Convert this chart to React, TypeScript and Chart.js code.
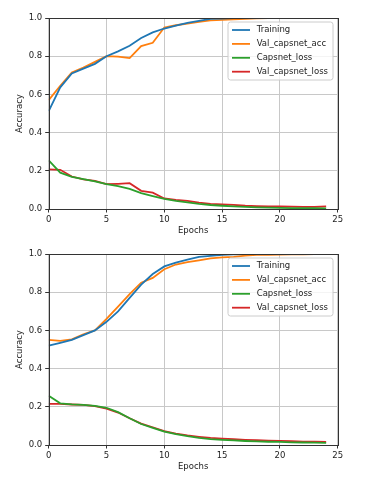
import React, { useEffect, useRef } from "react";
import { Chart, registerables } from "chart.js";

Chart.register(...registerables);

const epochs = [0,1,2,3,4,5,6,7,8,9,10,11,12,13,14,15,16,17,18,19,20,21,22,23,24];
const seriesNames = ["Training", "Val_capsnet_acc", "Capsnet_loss", "Val_capsnet_loss"];
const seriesColors = ["#1f77b4", "#ff7f0e", "#2ca02c", "#d62728"];
const xTicks = [0, 5, 10, 15, 20, 25];
const yTicks = [0, 0.2, 0.4, 0.6, 0.8, 1.0];

// Chart 1
const train1 = [0.513,0.637,0.71,0.735,0.76,0.8,0.825,0.855,0.895,0.925,0.945,0.96,0.975,0.985,0.995,0.997,0.999,1.0,1.0,1.0,1.0,1.0,1.0,1.0,1.0];
const valAcc1 = [0.57,0.645,0.715,0.74,0.77,0.8,0.798,0.79,0.853,0.87,0.95,0.962,0.97,0.98,0.988,0.99,0.993,0.996,0.998,0.999,0.999,1.0,1.0,1.0,1.0];
const loss1 = [0.255,0.19,0.168,0.157,0.145,0.13,0.12,0.105,0.083,0.068,0.053,0.043,0.035,0.027,0.021,0.017,0.014,0.011,0.009,0.007,0.006,0.005,0.004,0.004,0.003];
const valLoss1 = [0.207,0.205,0.17,0.155,0.147,0.13,0.132,0.135,0.095,0.086,0.055,0.048,0.043,0.033,0.027,0.024,0.022,0.017,0.015,0.014,0.013,0.012,0.011,0.011,0.014];

// Chart 2
const train2 = [0.52,0.535,0.55,0.575,0.6,0.645,0.7,0.77,0.84,0.895,0.935,0.955,0.97,0.985,0.99,0.995,0.998,0.999,1.0,1.0,1.0,1.0,1.0,1.0,1.0];
const valAcc2 = [0.55,0.545,0.553,0.58,0.6,0.66,0.725,0.79,0.85,0.875,0.92,0.945,0.957,0.967,0.977,0.982,0.985,0.992,0.995,0.996,0.997,0.998,0.998,0.999,0.999];
const loss2 = [0.258,0.218,0.213,0.21,0.205,0.195,0.172,0.14,0.11,0.09,0.07,0.057,0.046,0.037,0.031,0.027,0.024,0.021,0.019,0.017,0.016,0.014,0.013,0.012,0.011];
const valLoss2 = [0.215,0.215,0.212,0.21,0.203,0.19,0.17,0.14,0.112,0.093,0.073,0.06,0.05,0.043,0.037,0.033,0.03,0.027,0.025,0.023,0.022,0.02,0.018,0.017,0.016];

const xTitle = "Epochs";
const yTitle = "Accuracy";

const FONT = "'DejaVu Sans', sans-serif";
const FS = 8.5;
const TEXT = "#222";

const framePlugin = {
  id: "frame",
  afterDatasetsDraw(chart: any) {
    const { ctx, chartArea: a } = chart;
    ctx.save();
    ctx.strokeStyle = "#333";
    ctx.lineWidth = 1;
    ctx.strokeRect(Math.round(a.left) + 0.5, Math.round(a.top) + 0.5, Math.round(a.right - a.left), Math.round(a.bottom - a.top));
    ctx.restore();
  },
};

const legendPlugin = {
  id: "mplLegend",
  afterDraw(chart: any) {
    const { ctx, chartArea: a } = chart;
    const w = 105;
    const h = 58;
    const x = a.right - 4.7 - w;
    const y = a.top + 4;
    ctx.save();
    ctx.beginPath();
    const r = 2.5;
    ctx.moveTo(x + r, y);
    ctx.lineTo(x + w - r, y);
    ctx.quadraticCurveTo(x + w, y, x + w, y + r);
    ctx.lineTo(x + w, y + h - r);
    ctx.quadraticCurveTo(x + w, y + h, x + w - r, y + h);
    ctx.lineTo(x + r, y + h);
    ctx.quadraticCurveTo(x, y + h, x, y + h - r);
    ctx.lineTo(x, y + r);
    ctx.quadraticCurveTo(x, y, x + r, y);
    ctx.closePath();
    ctx.fillStyle = "rgba(255,255,255,0.8)";
    ctx.fill();
    ctx.strokeStyle = "#cccccc";
    ctx.lineWidth = 1;
    ctx.stroke();
    ctx.font = `${FS}px ${FONT}`;
    ctx.textBaseline = "middle";
    ctx.textAlign = "left";
    chart.data.datasets.forEach((ds: any, i: number) => {
      const yy = y + 8 + i * 13.9;
      ctx.strokeStyle = ds.borderColor;
      ctx.lineWidth = 1.8;
      ctx.beginPath();
      ctx.moveTo(x + 4, yy);
      ctx.lineTo(x + 22, yy);
      ctx.stroke();
      ctx.fillStyle = TEXT;
      ctx.fillText(ds.label, x + 28.7, yy);
    });
    ctx.restore();
  },
};

function makeConfig(series: number[][]): any {
  return {
    type: "line",
    data: {
      datasets: series.map((vals, i) => ({
        label: seriesNames[i],
        data: epochs.map((e, j) => ({ x: e, y: vals[j] })),
        borderColor: seriesColors[i],
        backgroundColor: seriesColors[i],
        borderWidth: 1.8,
        pointRadius: 0,
        tension: 0,
        fill: false,
      })),
    },
    options: {
      responsive: false,
      animation: false,
      layout: { padding: { left: 0, top: 18, right: 27.3, bottom: 0 } },
      plugins: { legend: { display: false }, tooltip: { enabled: false } },
      scales: {
        x: {
          type: "linear",
          min: 0,
          max: 25,
          afterBuildTicks: (s: any) => { s.ticks = xTicks.map((v) => ({ value: v })); },
          afterFit: (s: any) => { s.height = 31; },
          ticks: { font: { family: FONT, size: FS }, color: TEXT, padding: 2, maxRotation: 0, callback: (v: any) => String(v) },
          grid: { color: "#c8c8c8", lineWidth: 1, tickColor: "#333", tickLength: 3.5 },
          border: { display: false },
          title: { display: true, text: xTitle, font: { family: FONT, size: FS }, color: TEXT, padding: { top: 0, bottom: 4.2 } },
        },
        y: {
          type: "linear",
          min: 0,
          max: 1,
          afterBuildTicks: (s: any) => { s.ticks = yTicks.map((v) => ({ value: v })); },
          afterFit: (s: any) => { s.width = 48.7; },
          ticks: { font: { family: FONT, size: FS }, color: TEXT, padding: 3, callback: (v: any) => Number(v).toFixed(1) },
          grid: { color: "#c8c8c8", lineWidth: 1, tickColor: "#333", tickLength: 3.5 },
          border: { display: false },
          title: { display: true, text: yTitle, font: { family: FONT, size: FS }, color: TEXT, padding: { top: 15, bottom: 0 } },
        },
      },
    },
    plugins: [framePlugin, legendPlugin],
  };
}

function LineChart({ series, top }: { series: number[][]; top: number }) {
  const ref = useRef<HTMLCanvasElement | null>(null);
  useEffect(() => {
    if (!ref.current) return;
    const chart = new Chart(ref.current, makeConfig(series));
    return () => chart.destroy();
  }, [series]);
  return (
    <canvas
      ref={ref}
      width={365}
      height={240}
      style={{ position: "absolute", left: 0, top, width: 365, height: 240 }}
    />
  );
}

const series1 = [train1, valAcc1, loss1, valLoss1];
const series2 = [train2, valAcc2, loss2, valLoss2];

export default function App() {
  return (
    <div style={{ position: "absolute", left: 0, top: 0, width: 365, height: 480, background: "#fff", overflow: "hidden" }}>
      <LineChart series={series1} top={0} />
      <LineChart series={series2} top={236} />
    </div>
  );
}
